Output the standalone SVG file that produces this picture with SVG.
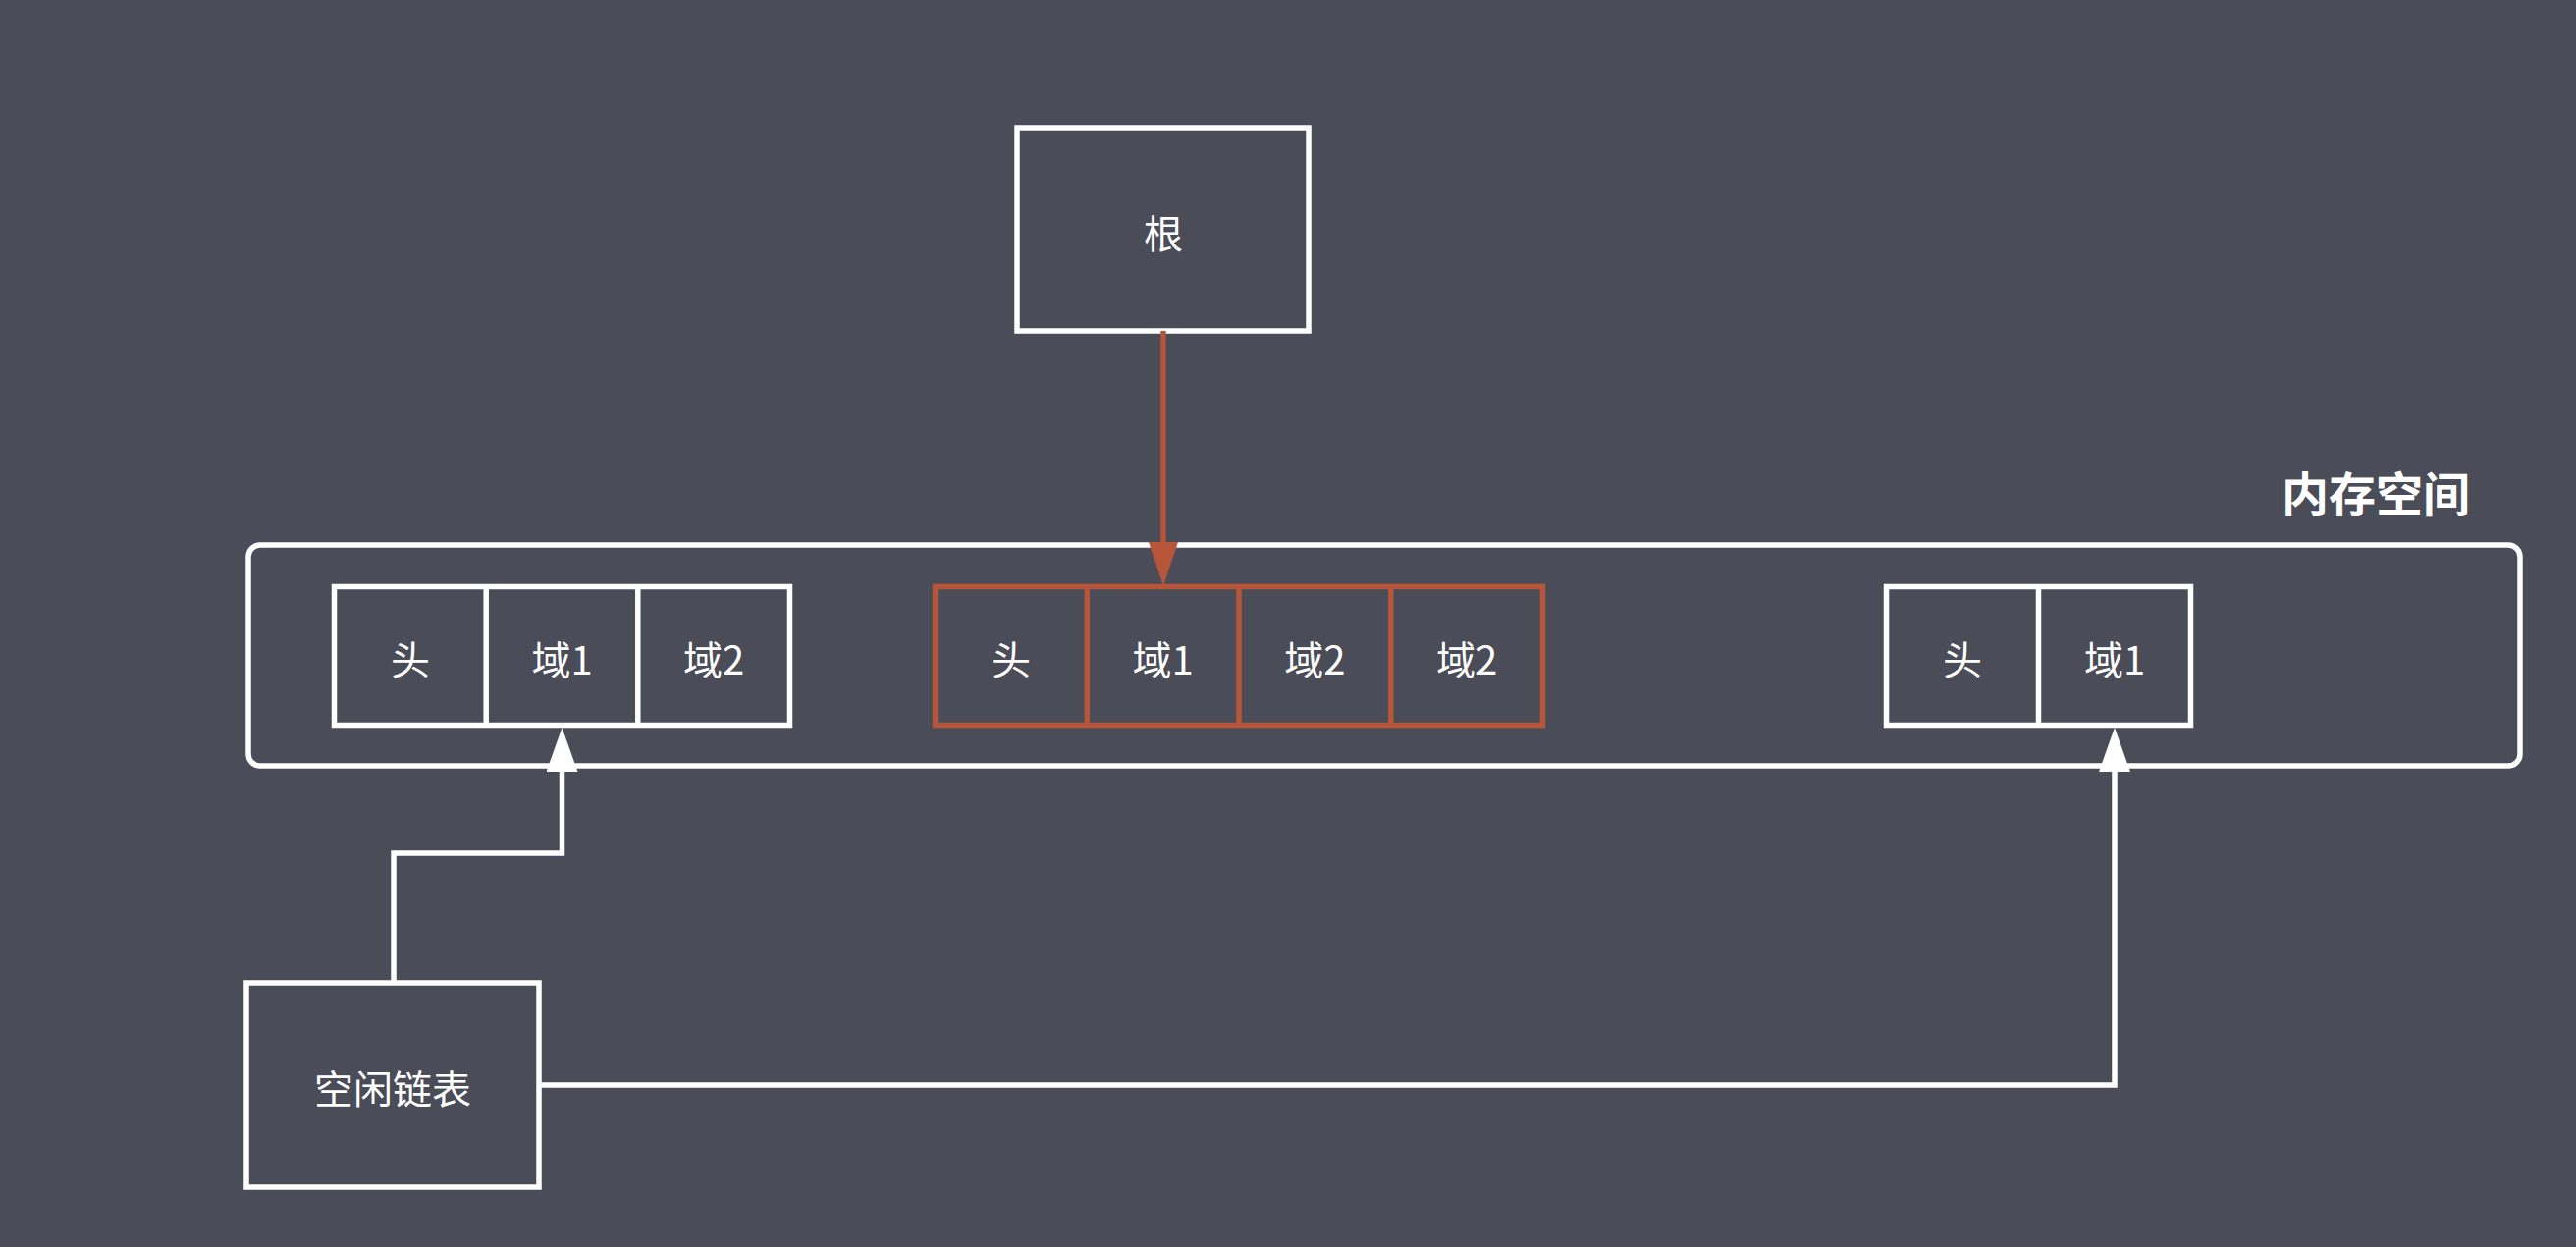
<svg xmlns="http://www.w3.org/2000/svg" width="2624" height="1270" viewBox="0 0 2624 1270">
  <style>
    .box { fill: none; stroke: #FFFFFF; stroke-width: 5.5; }
    .red { fill: none; stroke: #B7553A; stroke-width: 5.5; }
    .lbl { fill: #FFFFFF; font-family: "Noto Sans CJK SC", "Noto Sans", sans-serif; font-size: 40px; text-anchor: middle; dominant-baseline: central; }
    .title { fill: #FFFFFF; font-family: "Noto Sans CJK SC", "Noto Sans", sans-serif; font-size: 48px; font-weight: bold; text-anchor: middle; }
    .conn { fill: none; stroke: #FFFFFF; stroke-width: 5.5; }
    .connRed { fill: none; stroke: #B7553A; stroke-width: 5.5; }
  </style>
  <defs>
    <marker id="arrowW" viewBox="0 0 45 32" refX="0" refY="16" markerWidth="45" markerHeight="32" markerUnits="userSpaceOnUse" orient="auto">
      <path d="M0,0 L45,16 L0,32 Z" fill="#FFFFFF"/>
    </marker>
    <marker id="arrowR" viewBox="0 0 45 30" refX="0" refY="15" markerWidth="45" markerHeight="30" markerUnits="userSpaceOnUse" orient="auto">
      <path d="M0,0 L45,15 L0,30 Z" fill="#B7553A"/>
    </marker>
  </defs>
  <rect width="2624" height="1270" fill="#4A4C58"/>

  <g id="memory-space">
    <rect class="box" x="253" y="555" width="2314" height="225" rx="12" ry="12"/>
    <text class="title" x="2420" y="521">内存空间</text>
  </g>

  <g id="root">
    <rect class="box" x="1036" y="130" width="297" height="207"/>
    <text class="lbl" x="1185" y="236">根</text>
  </g>

  <g id="block-left">
    <rect class="box" x="340.5" y="597.5" width="464" height="141"/>
    <line class="box" x1="495.2" y1="597.5" x2="495.2" y2="738.5"/>
    <line class="box" x1="649.8" y1="597.5" x2="649.8" y2="738.5"/>
    <text class="lbl" x="418" y="670">头</text>
    <text class="lbl" x="572.5" y="670">域1</text>
    <text class="lbl" x="727" y="670">域2</text>
  </g>

  <g id="block-middle">
    <rect class="red" x="952.5" y="597.5" width="619" height="141"/>
    <line class="red" x1="1107.3" y1="597.5" x2="1107.3" y2="738.5"/>
    <line class="red" x1="1262" y1="597.5" x2="1262" y2="738.5"/>
    <line class="red" x1="1416.8" y1="597.5" x2="1416.8" y2="738.5"/>
    <text class="lbl" x="1030" y="670">头</text>
    <text class="lbl" x="1184.6" y="670">域1</text>
    <text class="lbl" x="1339.4" y="670">域2</text>
    <text class="lbl" x="1494" y="670">域2</text>
  </g>

  <g id="block-right">
    <rect class="box" x="1921.5" y="597.5" width="310" height="141"/>
    <line class="box" x1="2076.5" y1="597.5" x2="2076.5" y2="738.5"/>
    <text class="lbl" x="1999" y="670">头</text>
    <text class="lbl" x="2154" y="670">域1</text>
  </g>

  <g id="free-list">
    <rect class="box" x="251" y="1001" width="298" height="208"/>
    <text class="lbl" x="400" y="1107">空闲链表</text>
  </g>

  <g id="connectors">
    <path class="connRed" d="M1185,337 L1185,552" marker-end="url(#arrowR)"/>
    <path class="conn" d="M401,1001 L401,869 L572.5,869 L572.5,786" marker-end="url(#arrowW)"/>
    <path class="conn" d="M549,1105 L2154,1105 L2154,786" marker-end="url(#arrowW)"/>
  </g>
</svg>
